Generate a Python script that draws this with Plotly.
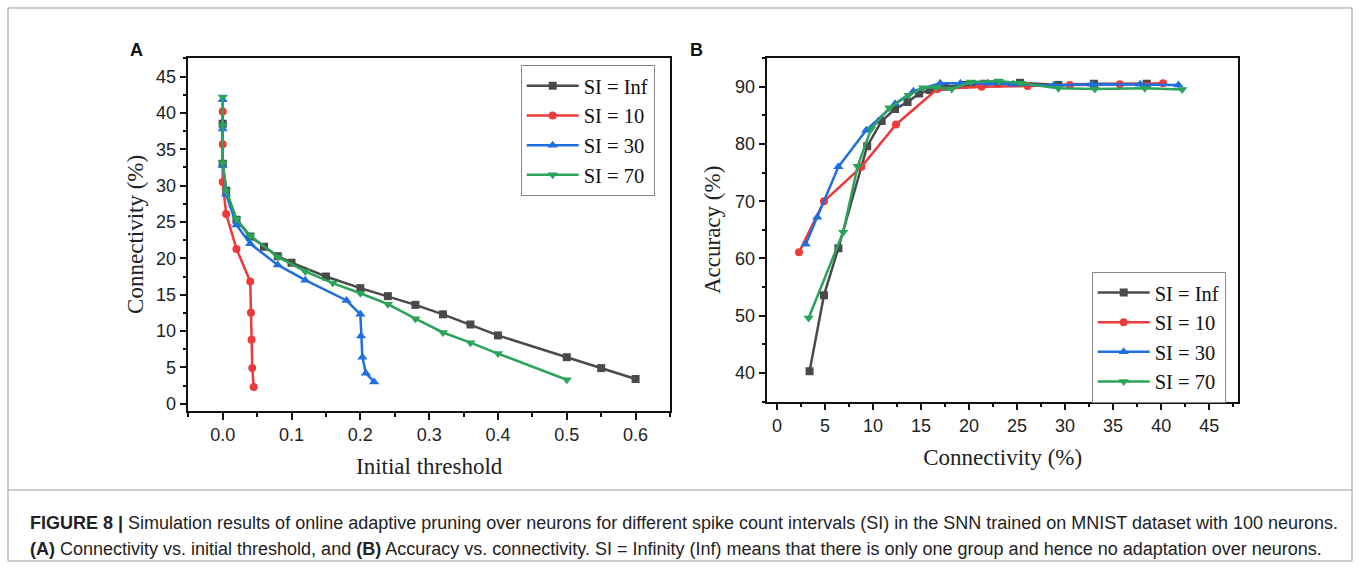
import plotly.graph_objects as go

W, H = 1360, 569

# ---------------- data ----------------
series_names = ["SI = Inf", "SI = 10", "SI = 30", "SI = 70"]

# Panel A: connectivity (%) vs initial threshold
thr_inf = [0, 0, 0.005, 0.02, 0.04, 0.06, 0.08, 0.1, 0.15, 0.2, 0.24, 0.28, 0.32, 0.36, 0.4, 0.5, 0.55, 0.6]
con_inf = [38.5, 33.0, 29.3, 25.3, 23.0, 21.6, 20.3, 19.4, 17.5, 15.9, 14.8, 13.6, 12.3, 10.9, 9.4, 6.4, 4.9, 3.4]

thr_10 = [0, 0, 0, 0.005, 0.02, 0.04, 0.041, 0.042, 0.043, 0.045]
con_10 = [40.2, 35.7, 30.5, 26.1, 21.3, 16.8, 12.5, 8.8, 4.9, 2.3]

thr_30 = [0, 0, 0, 0.005, 0.02, 0.04, 0.08, 0.12, 0.18, 0.2, 0.201, 0.203, 0.208, 0.22]
con_30 = [41.8, 37.8, 32.8, 28.8, 24.6, 22.0, 19.1, 17.0, 14.2, 12.3, 9.3, 6.4, 4.2, 3.0]

thr_70 = [0, 0, 0, 0.005, 0.02, 0.04, 0.08, 0.12, 0.16, 0.2, 0.24, 0.28, 0.32, 0.36, 0.4, 0.5]
con_70 = [42.2, 38.3, 33.1, 29.3, 25.4, 23.1, 20.2, 18.2, 16.6, 15.2, 13.7, 11.7, 9.8, 8.4, 6.9, 3.3]

# Panel B: accuracy (%) vs connectivity (%)
bcon_inf = [3.4, 4.9, 6.4, 9.4, 10.9, 12.3, 13.6, 14.8, 15.9, 17.5, 19.4, 20.3, 21.6, 23.0, 25.3, 29.3, 33.0, 38.5]
acc_inf = [40.3, 53.6, 61.8, 79.6, 84.0, 86.1, 87.3, 88.8, 89.4, 90.0, 90.3, 90.4, 90.5, 90.6, 90.7, 90.3, 90.5, 90.5]

bcon_10 = [2.3, 4.9, 8.8, 12.4, 16.7, 21.3, 26.1, 30.5, 35.7, 40.2]
acc_10 = [61.1, 70.0, 76.0, 83.4, 89.6, 90.0, 90.1, 90.3, 90.4, 90.6]

bcon_30 = [3.0, 4.2, 6.4, 9.3, 12.3, 14.2, 17.0, 19.1, 22.0, 24.6, 28.8, 32.8, 37.8, 41.8]
acc_30 = [62.5, 67.2, 76.0, 82.4, 87.0, 89.2, 90.6, 90.6, 90.6, 90.4, 90.2, 90.4, 90.4, 90.3]

bcon_70 = [3.3, 6.9, 8.4, 9.8, 11.7, 13.7, 15.2, 16.6, 18.2, 20.2, 23.1, 25.4, 29.3, 33.1, 38.3, 42.2]
acc_70 = [49.6, 64.6, 76.1, 82.6, 86.3, 88.5, 89.8, 89.9, 89.6, 90.8, 91.0, 90.6, 89.7, 89.6, 89.7, 89.5]

# ---------------- styles ----------------
colors = ["#4a4a4a", "#ee3a3a", "#1f6fe0", "#2ba35a"]
symbols = ["square", "circle", "triangle-up", "triangle-down"]
msizes = [8, 8, 9, 9]

SERIF = "Liberation Serif, Times New Roman, serif"
SANS = "Liberation Sans, Arial, sans-serif"

def px(x):
    return x / W

def py(y):
    return 1 - y / H

fig = go.Figure()

A = [(thr_inf, con_inf), (thr_10, con_10), (thr_30, con_30), (thr_70, con_70)]
B = [(bcon_inf, acc_inf), (bcon_10, acc_10), (bcon_30, acc_30), (bcon_70, acc_70)]

for i, (x, y) in enumerate(A):
    fig.add_trace(go.Scatter(
        x=x, y=y, mode="lines+markers", name=series_names[i],
        line=dict(color=colors[i], width=2.5),
        marker=dict(symbol=symbols[i], size=msizes[i], color=colors[i]),
        xaxis="x", yaxis="y", legend="legend", showlegend=True))

for i, (x, y) in enumerate(B):
    fig.add_trace(go.Scatter(
        x=x, y=y, mode="lines+markers", name=series_names[i],
        line=dict(color=colors[i], width=2.5),
        marker=dict(symbol=symbols[i], size=msizes[i], color=colors[i]),
        xaxis="x2", yaxis="y2", legend="legend2", showlegend=True))

axis_common = dict(
    showline=True, linecolor="#111", linewidth=1.5, mirror=True,
    ticks="outside", ticklen=7, tickwidth=1.5, tickcolor="#111",
    showgrid=False, zeroline=False,
    tickfont=dict(family=SANS, size=18, color="#222"),
    automargin=False,
)

legend_common = dict(xanchor="left", yanchor="top",
                     bgcolor="white", bordercolor="#888", borderwidth=1,
                     font=dict(family=SERIF, size=20.5, color="#111"),
                     tracegroupgap=0, itemwidth=52)

fig.update_layout(
    width=W, height=H,
    margin=dict(l=0, r=0, t=0, b=0),
    paper_bgcolor="white", plot_bgcolor="white",
    xaxis=dict(**axis_common, domain=[px(188.3), px(670)], range=[-0.05, 0.65],
               dtick=0.1, tick0=0, tickformat=".1f", anchor="y",
               minor=dict(ticks="outside", ticklen=4, dtick=0.05, tick0=0, tickcolor="#111"),
               title=dict(text="Initial threshold", font=dict(family=SERIF, size=23, color="#222"), standoff=14)),
    yaxis=dict(**axis_common, domain=[py(411), py(57.7)], range=[-1, 47.6],
               dtick=5, tick0=0, anchor="x",
               minor=dict(ticks="outside", ticklen=4, dtick=2.5, tick0=0, tickcolor="#111"),
               title=dict(text="Connectivity (%)", font=dict(family=SERIF, size=23, color="#222"), standoff=6)),
    xaxis2=dict(**axis_common, domain=[px(767.3), px(1238)], range=[-1, 48],
                dtick=5, tick0=0, anchor="y2",
                minor=dict(ticks="outside", ticklen=4, dtick=2.5, tick0=0, tickcolor="#111"),
                title=dict(text="Connectivity (%)", font=dict(family=SERIF, size=23, color="#222"), standoff=14)),
    yaxis2=dict(**axis_common, domain=[py(401.7), py(58)], range=[35, 95],
                dtick=10, tick0=0, anchor="x2",
                minor=dict(ticks="outside", ticklen=4, dtick=5, tick0=0, tickcolor="#111"),
                title=dict(text="Accuracy (%)", font=dict(family=SERIF, size=23, color="#222"), standoff=8)),
    legend=dict(x=px(520.7), y=py(65), **legend_common),
    legend2=dict(x=px(1091.7), y=py(271.7), **legend_common),
)

# Panel labels
fig.add_annotation(text="<b>A</b>", x=px(128), y=py(38), xref="paper", yref="paper",
                   showarrow=False, font=dict(family=SANS, size=18, color="#111"))
fig.add_annotation(text="<b>B</b>", x=px(697), y=py(38), xref="paper", yref="paper",
                   showarrow=False, font=dict(family=SANS, size=18, color="#111"))

# Caption
cap1 = "<b>FIGURE 8 |</b> Simulation results of online adaptive pruning over neurons for different spike count intervals (SI) in the SNN trained on MNIST dataset with 100 neurons."
cap2 = "<b>(A)</b> Connectivity vs. initial threshold, and <b>(B)</b> Accuracy vs. connectivity. SI = Infinity (Inf) means that there is only one group and hence no adaptation over neurons."
fig.add_annotation(text=cap1, x=px(28), y=py(523), xref="paper", yref="paper", xanchor="left",
                   yanchor="middle", showarrow=False, font=dict(family=SANS, size=18, color="#222"))
fig.add_annotation(text=cap2, x=px(28), y=py(549), xref="paper", yref="paper", xanchor="left",
                   yanchor="middle", showarrow=False, font=dict(family=SANS, size=18, color="#222"))

# Figure frame and caption separator
fig.add_shape(type="rect", xref="paper", yref="paper", x0=px(8), x1=px(1352), y0=py(561), y1=py(8),
              line=dict(color="#999", width=1))
fig.add_shape(type="line", xref="paper", yref="paper", x0=px(8), x1=px(1352), y0=py(490), y1=py(490),
              line=dict(color="#999", width=1))

fig.write_html("out.html")
